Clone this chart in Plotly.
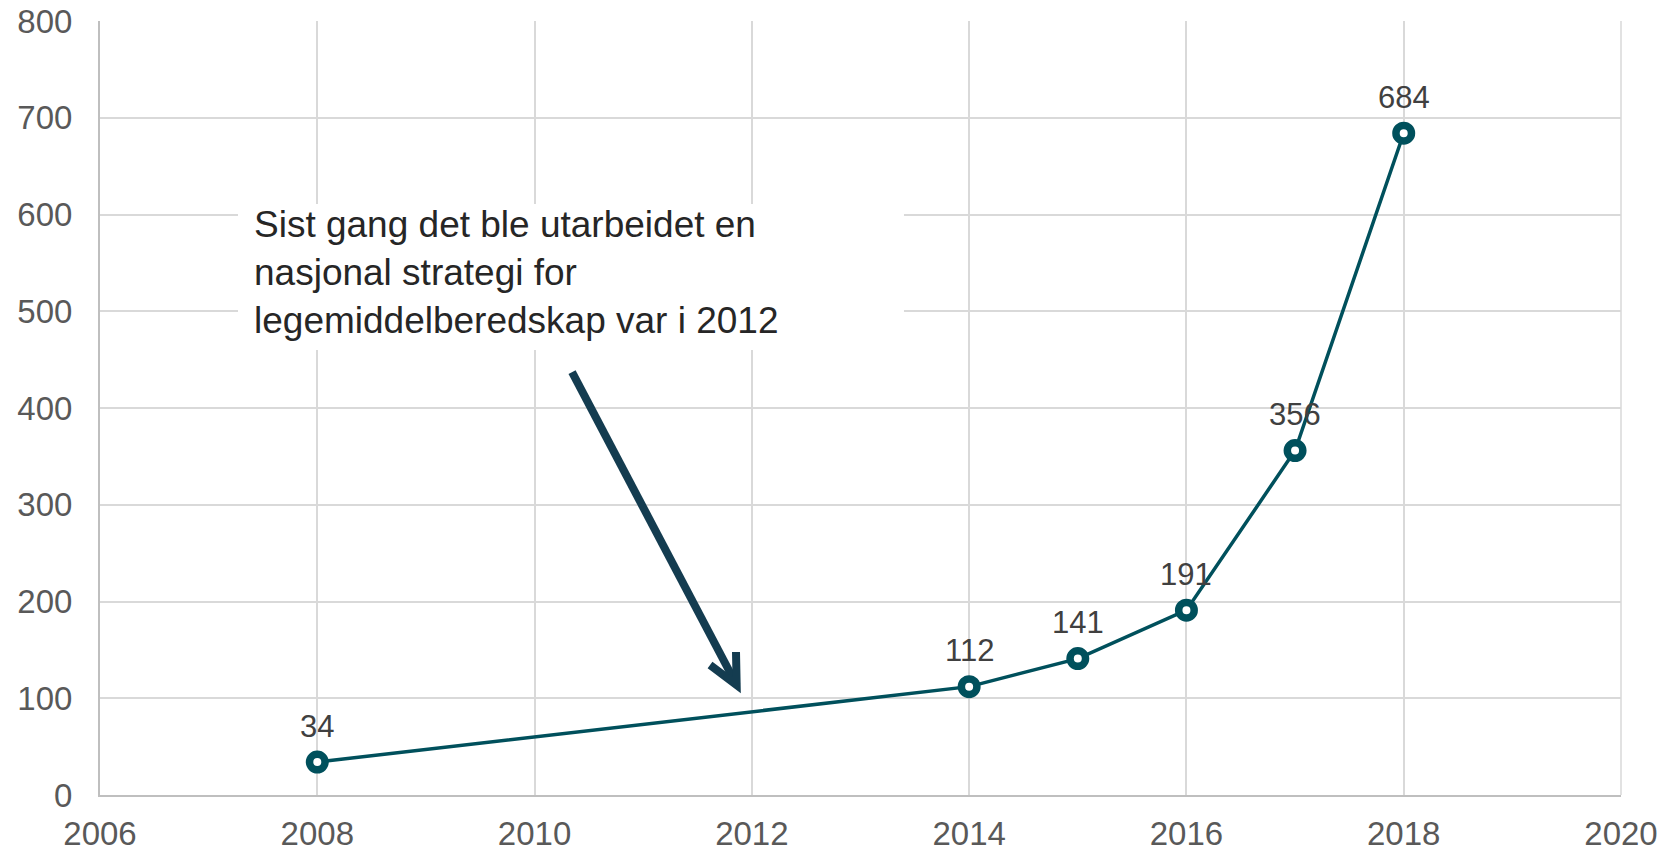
import plotly.graph_objects as go

years = [2008, 2014, 2015, 2016, 2017, 2018]
values = [34, 112, 141, 191, 356, 684]
x_ticks = [2006, 2008, 2010, 2012, 2014, 2016, 2018, 2020]
y_ticks = [0, 100, 200, 300, 400, 500, 600, 700, 800]
note_text = "Sist gang det ble utarbeidet en<br>nasjonal strategi for<br>legemiddelberedskap var i 2012"

LINE = "#00505C"
ARROW = "#143C50"
FONT = "Liberation Sans, Arial, sans-serif"

fig = go.Figure()
fig.add_trace(go.Scatter(
    x=years, y=values, mode="lines+markers",
    line=dict(color=LINE, width=3.5),
    marker=dict(symbol="circle", size=15.5, color="white",
                line=dict(color=LINE, width=7.5)),
    hoverinfo="skip", showlegend=False,
))

for xv, yv in zip(years, values):
    fig.add_annotation(x=xv, y=yv, text=str(yv), showarrow=False,
                       yshift=36, font=dict(family=FONT, size=31, color="#404040"))

# white background box for the note
fig.add_shape(type="rect", xref="x", yref="y", x0=2007.27, x1=2013.40, y0=460, y1=610.9,
              fillcolor="white", line=dict(width=0), layer="above")

# note text
fig.add_annotation(xref="x", yref="y", x=2007.40, y=540, xanchor="left", yanchor="middle",
                   text=note_text, showarrow=False, align="left",
                   font=dict(family=FONT, size=37, color="#262626"))

# arrow
fig.add_shape(type="path", xref="x", yref="y",
              path="M 2010.345,437 L 2011.86,113.7",
              line=dict(color=ARROW, width=8), layer="above")
fig.add_shape(type="path", xref="x", yref="y",
              path="M 2011.615,134.4 L 2011.86,113.7 L 2011.854,147.8",
              line=dict(color=ARROW, width=8), layer="above")

fig.update_layout(
    width=1664, height=850,
    margin=dict(l=100, r=43, t=21, b=55),
    paper_bgcolor="white", plot_bgcolor="white",
    font=dict(family=FONT, size=33, color="#595959"),
    xaxis=dict(range=[2006, 2020], tickvals=x_ticks, showgrid=True, automargin=False,
               gridcolor="#D9D9D9", gridwidth=1.5, zeroline=False,
               showline=True, linecolor="#BFBFBF", linewidth=2,
               ticks="", ticklabelstandoff=8,
               tickfont=dict(family=FONT, size=33, color="#595959")),
    yaxis=dict(range=[0, 800], tickvals=y_ticks, showgrid=True, automargin=False,
               gridcolor="#D9D9D9", gridwidth=1.5, zeroline=False,
               showline=True, linecolor="#BFBFBF", linewidth=2,
               ticks="", ticklabelstandoff=19,
               tickfont=dict(family=FONT, size=33, color="#595959")),
)
fig.add_shape(type="line", xref="paper", yref="paper", x0=1, x1=1, y0=0, y1=1,
              line=dict(color="#D9D9D9", width=1.5), layer="below")

fig.write_html("out.html", config={"displayModeBar": False},
               post_script="document.body.style.margin='0';document.body.style.overflow='hidden';")
